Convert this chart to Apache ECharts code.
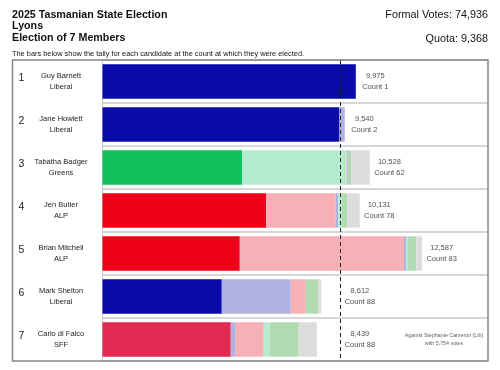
<!DOCTYPE html>
<html>
<head>
<meta charset="utf-8">
<script src="https://cdn.jsdelivr.net/npm/echarts@6/dist/echarts.min.js"></script>
<style>
html,body{margin:0;padding:0;background:#fff;}
#chart{width:500px;height:370px;}
</style>
</head>
<body>
<div id="chart"></div>
<script>
// ---------- DATA ----------
const electionTitle = ['2025 Tasmanian State Election', 'Lyons', 'Election of 7 Members'];
const formalVotes = 74936;
const quota = 9368;
const note = 'The bars below show the tally for each candidate at the count at which they were elected.';

const electedOrder = [1, 2, 3, 4, 5, 6, 7];
const candidates = ['Guy Barnett', 'Jane Howlett', 'Tabatha Badger', 'Jen Butler', 'Brian Mitchell', 'Mark Shelton', 'Carlo di Falco'];
const parties = ['Liberal', 'Liberal', 'Greens', 'ALP', 'ALP', 'Liberal', 'SFF'];
const totals = [9975, 9540, 10528, 10131, 12587, 8612, 8439];
const electedAtCount = [1, 2, 62, 78, 83, 88, 88];

// tally pieces for each candidate (votes), in order along the bar
const segVotes = [
  [9975],
  [9331, 209],
  [5496, 4110, 32, 31, 134, 725],
  [6441, 2744, 87, 137, 221, 501],
  [5406, 6468, 79, 78, 331, 225],
  [4697, 2716, 591, 484, 124],
  [5051, 197, 1102, 225, 1153, 711]
];
// source of each piece
const segSource = [
  ['LIB'],
  ['LIB', 'LIB_X'],
  ['GRN', 'GRN_X', 'ALP_X', 'LIB_X', 'OTH_X', 'EXH'],
  ['ALP', 'ALP_X', 'LIB_X', 'GRN_X', 'OTH_X', 'EXH'],
  ['ALP', 'ALP_X', 'LIB_X', 'GRN_X', 'OTH_X', 'EXH'],
  ['LIB', 'LIB_X', 'ALP_X', 'OTH_X', 'EXH'],
  ['SFF', 'LIB_X', 'ALP_X', 'GRN_X', 'OTH_X', 'EXH']
];

const lastExcluded = 'Stephanie Cameron (Lib)';
const lastExcludedVotes = 5754;
const lastRow = 6;

// ---------- STYLE ----------
const colors = {
  LIB: '#0b0bab', LIB_X: '#b2b2e2',
  ALP: '#ee0018', ALP_X: '#f7b0b5',
  GRN: '#10c15c', GRN_X: '#b5ebcf',
  SFF: '#e02a52',
  OTH_X: '#b1dbb1', EXH: '#dcdcdc'
};
const FONT = '"Liberation Sans", Arial, sans-serif';
const xMax = 15180;
const fmt = n => n.toLocaleString('en-US');

const nSeg = Math.max(...segVotes.map(s => s.length));
const series = [];
for (let j = 0; j < nSeg; j++) {
  series.push({
    type: 'bar',
    stack: 'tally',
    barWidth: '80%',
    yAxisIndex: 0,
    silent: true,
    data: segVotes.map((s, i) => j < s.length
      ? { value: s[j], itemStyle: { color: colors[segSource[i][j]] } }
      : { value: 0, itemStyle: { color: 'rgba(0,0,0,0)' } }),
    markLine: j === 0 ? {
      silent: true,
      symbol: 'none',
      label: { show: false },
      lineStyle: { color: '#222', width: 1, type: [4, 3] },
      data: [{ xAxis: quota }],
      z: 10
    } : undefined
  });
}
// value / count labels
series.push({
  type: 'scatter',
  yAxisIndex: 0,
  symbolSize: 0,
  silent: true,
  z: 5,
  data: totals.map((t, i) => [Math.max(t, quota), i]),
  label: {
    show: true,
    position: 'inside',
    offset: [19.5, 0],
    align: 'center',
    fontFamily: FONT,
    fontSize: 7.5,
    lineHeight: 10.8,
    color: '#222',
    formatter: p => fmt(totals[p.dataIndex]) + '\nCount ' + electedAtCount[p.dataIndex]
  }
});
// last exclusion note
series.push({
  type: 'scatter',
  yAxisIndex: 0,
  symbolSize: 0,
  silent: true,
  data: [[xMax, lastRow]],
  label: {
    show: true,
    position: 'inside',
    offset: [-44, 0],
    align: 'center',
    fontFamily: FONT,
    fontSize: 5.3,
    lineHeight: 8.3,
    color: '#333',
    formatter: () => 'Against ' + lastExcluded + '\nwith ' + fmt(lastExcludedVotes) + ' votes'
  }
});

const chart = echarts.init(document.getElementById('chart'), null, { renderer: 'canvas' });
chart.setOption({
  animation: false,
  backgroundColor: '#fff',
  title: [
    { text: electionTitle.join('\n'), left: 12, top: 9, padding: 0,
      textStyle: { fontFamily: FONT, fontSize: 10.7, fontWeight: 'bold', color: '#111', lineHeight: 11.6 } },
    { text: 'Formal Votes: ' + fmt(formalVotes), right: 12, top: 9, padding: 0,
      textStyle: { fontFamily: FONT, fontSize: 10.8, fontWeight: 'normal', color: '#111', lineHeight: 12 } },
    { text: 'Quota: ' + fmt(quota), right: 12, top: 33, padding: 0,
      textStyle: { fontFamily: FONT, fontSize: 10.8, fontWeight: 'normal', color: '#111', lineHeight: 12 } },
    { text: note, left: 12, top: 50, padding: 0,
      textStyle: { fontFamily: FONT, fontSize: 7.4, fontWeight: 'normal', color: '#111', lineHeight: 8 } }
  ],
  grid: { left: 102.5, right: 12, top: 60, bottom: 9, containLabel: false },
  xAxis: {
    type: 'value', min: 0, max: xMax,
    show: false
  },
  yAxis: [
    {
      type: 'category', data: candidates, inverse: true,
      axisLine: { show: true, lineStyle: { color: '#c8c8c8', width: 1 } },
      axisTick: { show: false },
      splitLine: { show: true, lineStyle: { color: '#d6d6d6', width: 2 } },
      axisLabel: {
        margin: 41.5, align: 'center',
        formatter: (v, i) => '{n|' + candidates[i] + '}\n{n|' + parties[i] + '}',
        rich: { n: { fontFamily: FONT, fontSize: 7.5, lineHeight: 11, color: '#222', align: 'center' } }
      }
    },
    {
      type: 'category', data: candidates, inverse: true, position: 'left',
      axisLine: { show: false }, axisTick: { show: false }, splitLine: { show: false },
      axisLabel: {
        margin: 81, align: 'center',
        formatter: (v, i) => '{r|' + electedOrder[i] + '}',
        rich: { r: { fontFamily: FONT, fontSize: 10.5, color: '#222', padding: [0, 0, 6, 0] } }
      }
    }
  ],
  graphic: [{
    type: 'rect', z: 100, silent: true,
    shape: { x: 12.5, y: 60, width: 475.5, height: 301 },
    style: { fill: 'none', stroke: '#888', lineWidth: 1.5 }
  }],
  series: series
});
</script>
</body>
</html>
